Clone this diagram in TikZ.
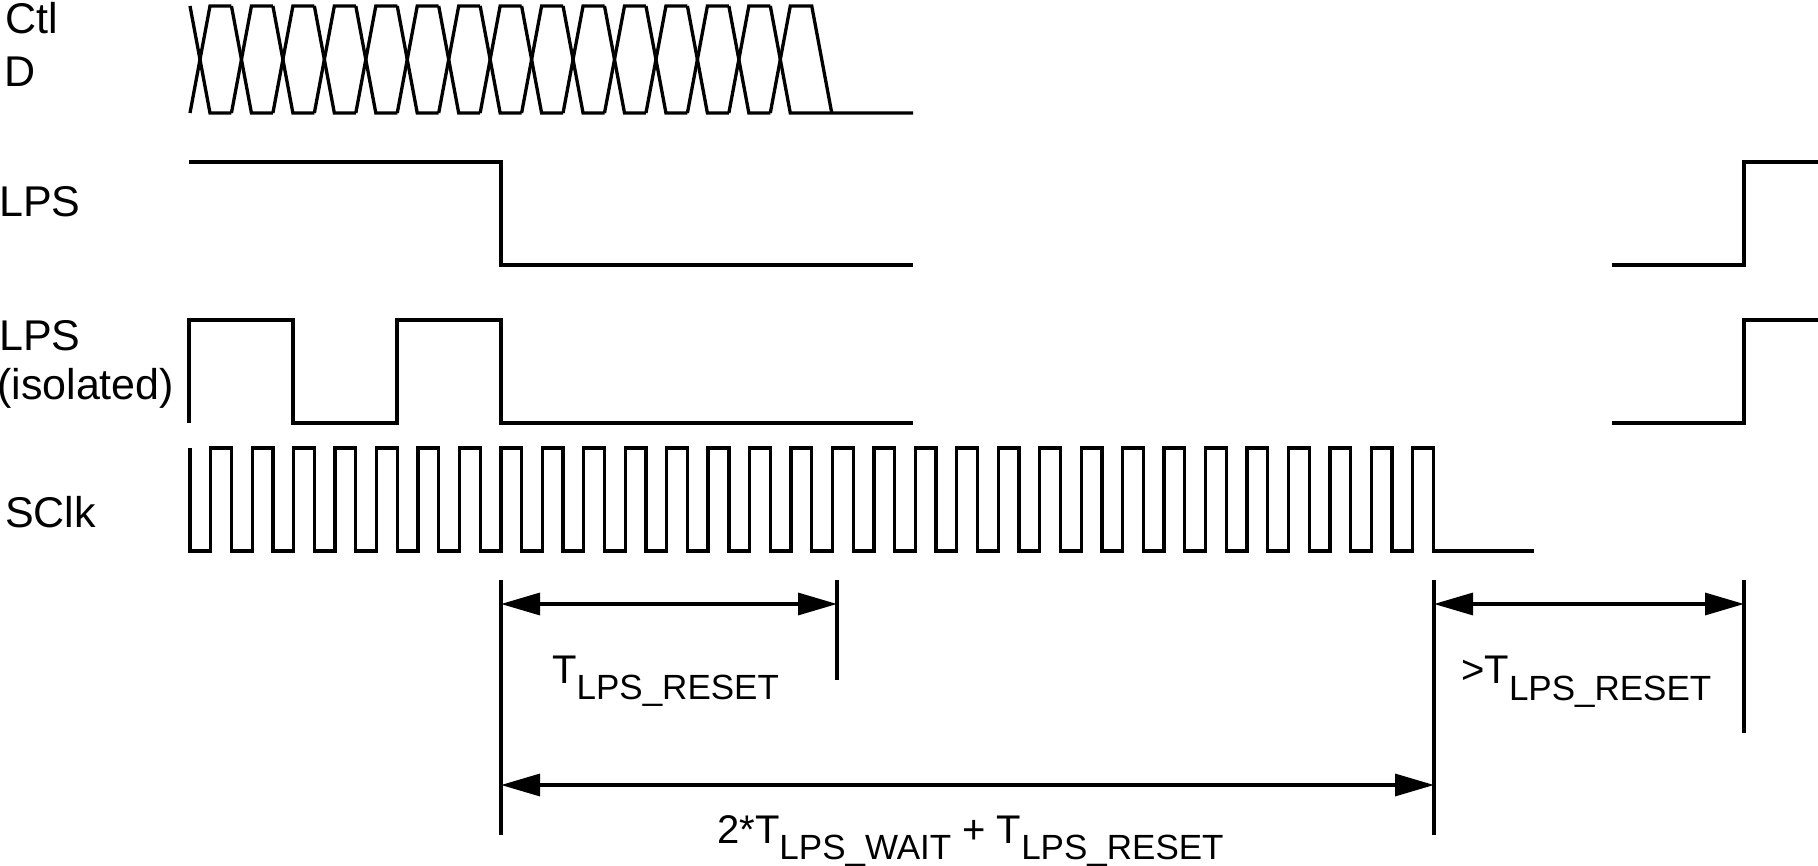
\documentclass[tikz,border=0pt]{standalone}
\usepackage{fontspec}
\setmainfont{Liberation Sans}
\usetikzlibrary{arrows.meta}
\newcommand\mysubfont{\fontsize{35}{35}\selectfont}
\begin{document}
\begin{tikzpicture}[x=1pt,y=-1pt,
  wave/.style={line width=3.3pt, line join=miter},
  dimline/.style={line width=3.3pt},
  dimarrow/.style={line width=3.3pt, {Triangle[length=39pt,width=22pt]}-{Triangle[length=39pt,width=22pt]}},
  lbl/.style={anchor=base west, inner sep=0pt, font=\fontsize{43}{50}\selectfont},
  tlbl/.style={anchor=base west, inner sep=0pt, font=\fontsize{40}{48}\selectfont}]
\useasboundingbox (0,0) rectangle (1818,866);
\def\per{41.45}
\def\dd{20}
% Ctl / D bus
\foreach \k in {0,...,13}{
  \pgfmathsetmacro\xa{190+\per*\k}
  \pgfmathsetmacro\xb{\xa+\dd}
  \pgfmathsetmacro\xc{\xa+\per}
  \draw[wave] (\xa,6) -- (\xb,113) -- (\xc,113);
  \draw[wave] (\xa,113) -- (\xb,6) -- (\xc,6);
}
\pgfmathsetmacro\xa{190+\per*14}
\pgfmathsetmacro\xb{\xa+\dd}
\pgfmathsetmacro\xc{\xa+\per}
\pgfmathsetmacro\xd{\xc+\dd}
\draw[wave] (\xa,113) -- (\xb,6) -- (\xc,6) -- (\xd,113);
\draw[wave] (\xa,6) -- (\xb,113) -- (913,113);
% LPS
\draw[wave] (189,162) -- (501,162) -- (501,265) -- (913,265);
\draw[wave] (1612,265) -- (1744,265) -- (1744,162) -- (1818,162);
% LPS isolated
\draw[wave] (189,423) -- (189,320) -- (293,320) -- (293,423) -- (397,423) -- (397,320) -- (501,320) -- (501,423) -- (913,423);
\draw[wave] (1612,423) -- (1744,423) -- (1744,320) -- (1818,320);
% SClk
\draw[wave] (190,448) \foreach \k in {0,...,29}{ -- ({190+\per*\k},551) -- ({190+\per*\k+\per/2},551) -- ({190+\per*\k+\per/2},448) -- ({190+\per*(\k+1)},448) } -- ({190+\per*30},551) -- (1534,551);
% labels
\node[lbl] (ctl) at (5,34) {Ctl};
\node[lbl] (d) at (4,87) {D};
\node[lbl] (lps) at (-1,217) {LPS};
\node[lbl] (lpsi) at (-1,351) {LPS};
\node[lbl] (iso) at (-3,400) {(isolated)};
\node[lbl] (sclk) at (5,527) {SClk};
% dimension lines
\coordinate (v1t) at (501,580); \coordinate (v1b) at (501,835);
\coordinate (v2t) at (837,580); \coordinate (v2b) at (837,680);
\coordinate (v3t) at (1434,580); \coordinate (v3b) at (1434,835);
\coordinate (v4t) at (1744,580); \coordinate (v4b) at (1744,733);
\draw[dimline] (v1t) -- (v1b);
\draw[dimline] (v2t) -- (v2b);
\draw[dimline] (v3t) -- (v3b);
\draw[dimline] (v4t) -- (v4b);
\coordinate (a1l) at (501,604); \coordinate (a1r) at (837,604);
\coordinate (a2l) at (501,785); \coordinate (a2r) at (1434,785);
\coordinate (a3l) at (1434,604); \coordinate (a3r) at (1744,604);
\draw[dimarrow] (a1l) -- (a1r);
\draw[dimarrow] (a2l) -- (a2r);
\draw[dimarrow] (a3l) -- (a3r);
% timing labels
\node[tlbl] (treset) at (552,683) {T\raisebox{-16pt}{\mysubfont LPS\_RESET}};
\node[tlbl] (gtreset) at (1461,683) {>T\raisebox{-17pt}{\mysubfont LPS\_RESET}};
\node[tlbl] (wait) at (717,843) {2*T\raisebox{-16pt}{\mysubfont LPS\_WAIT} + T\raisebox{-16pt}{\mysubfont LPS\_RESET}};
\end{tikzpicture}
\end{document}
